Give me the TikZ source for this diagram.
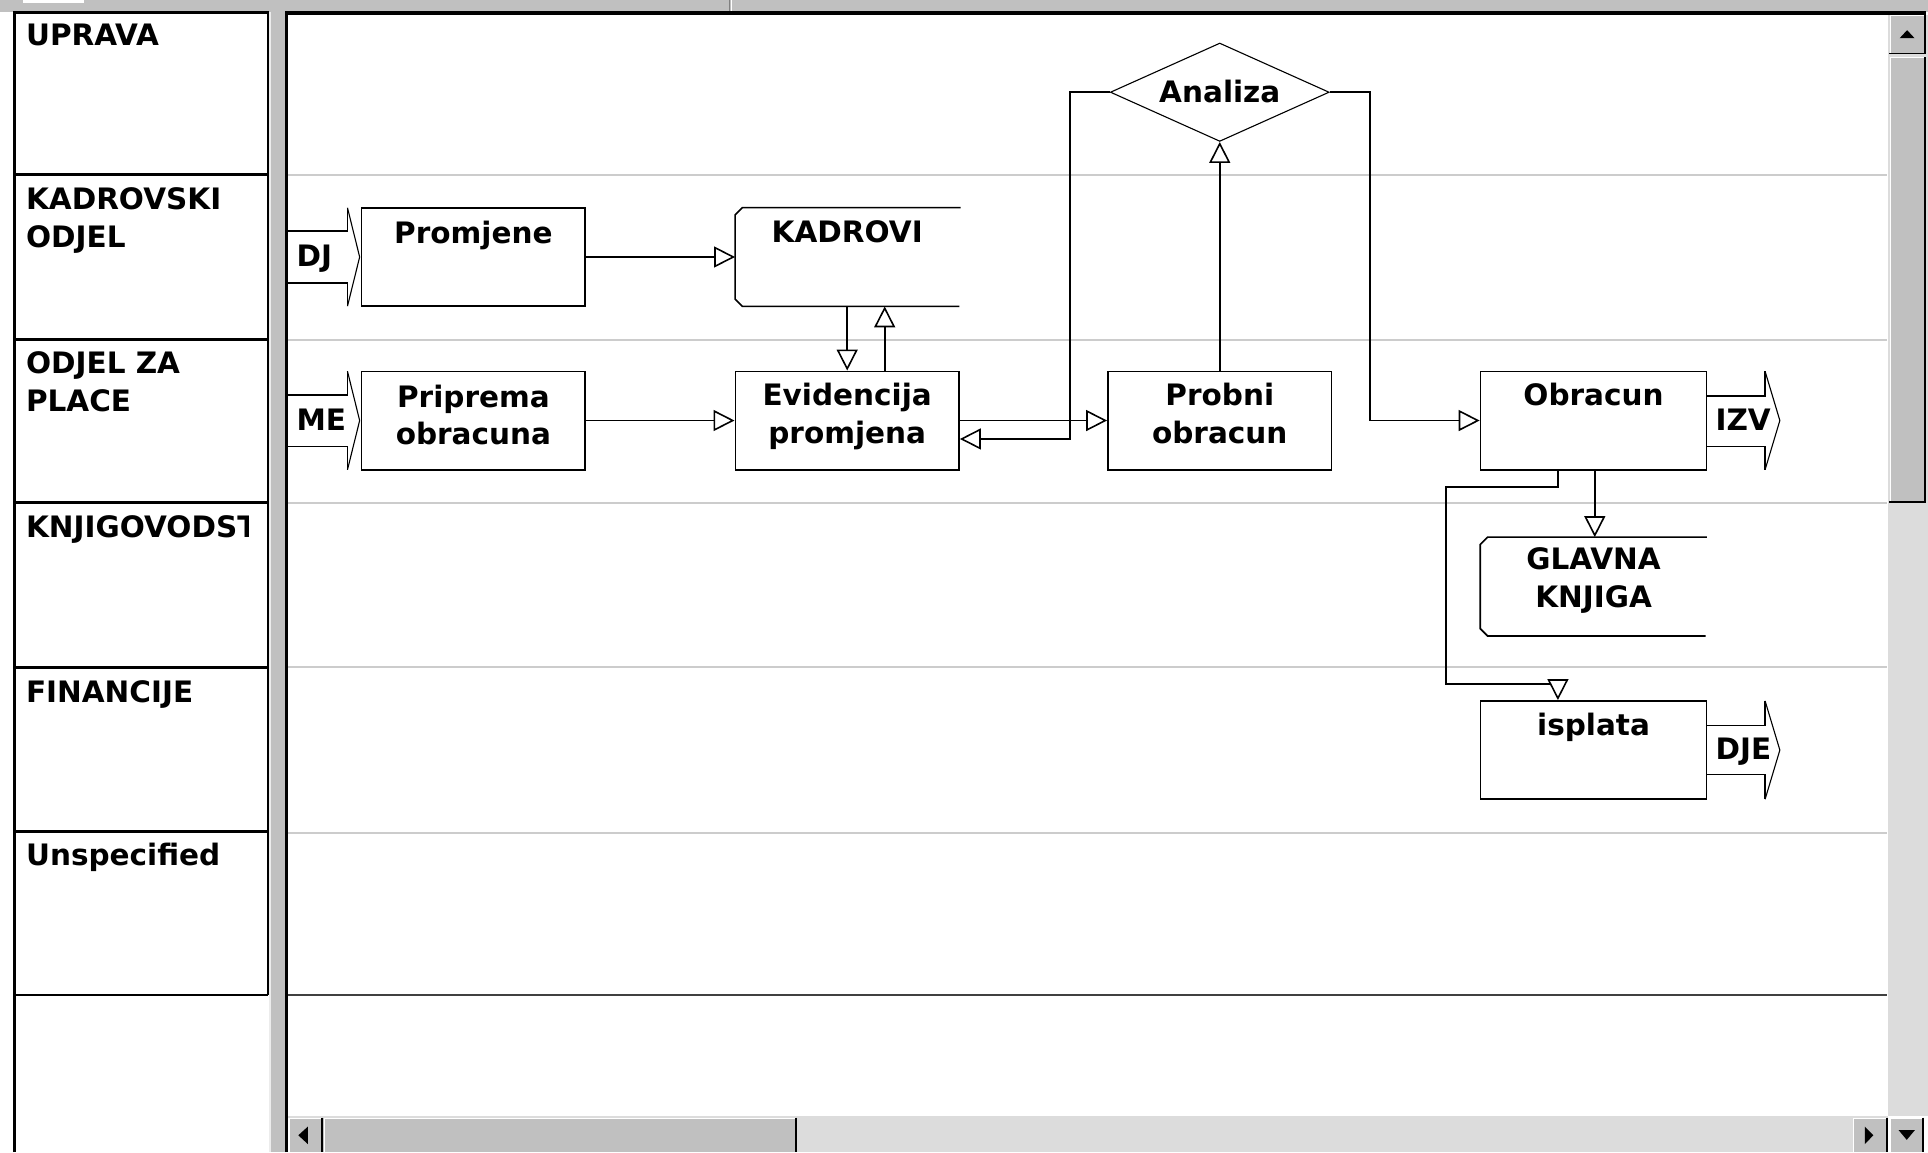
\documentclass[tikz,border=0pt]{standalone}
\usepackage{fontspec}
\newfontfamily\uifont{DejaVu Sans}
\usetikzlibrary{arrows.meta,shapes.geometric}
\definecolor{wingray}{HTML}{C0C0C0}
\definecolor{laneline}{HTML}{CCCCCC}
\definecolor{track}{HTML}{DCDCDC}
\definecolor{shadowgray}{HTML}{808080}
\begin{document}
\begin{tikzpicture}[x=1pt,y=-1pt,
  txt/.style={font=\uifont\bfseries\fontsize{24}{30.5}\selectfont, inner sep=0pt, align=center},
  lanetxt/.style={font=\uifont\bfseries\fontsize{24}{31}\selectfont, inner sep=0pt, align=left, anchor=base west},
  proc/.style={draw, line width=1.3pt, minimum width=182pt, minimum height=80pt, inner sep=0pt, fill=white},
  storebox/.style={minimum width=182pt, minimum height=80pt, inner sep=0pt},
  storeline/.style={line width=1.3pt},
  flow/.style={line width=1.3pt, -{Triangle[length=17pt,width=17pt,fill=white]}},
  blockline/.style={line width=1.3pt},
  headline/.style={line width=0.9pt},
  bevelhi/.style={white, line width=1pt},
  bevelsh/.style={black, line width=1.5pt}
]
\useasboundingbox (0,0) rectangle (1568,937);
\fill[white] (0,0) rectangle (1568,937);

% ---------- top bar ----------
\fill[wingray] (0,0) rectangle (1568,9.5);
\fill[white] (19,0) rectangle (68,2.5);
\draw[shadowgray, line width=0.8pt] (593.5,0) -- (593.5,9.5);
\draw[white, line width=0.8pt] (594.5,0) -- (594.5,9.5);

% ---------- splitter ----------
\fill[wingray] (219,9.5) rectangle (232,937);
\draw[white!85!gray, line width=1pt] (219.6,9.5) -- (219.6,937);

% ---------- lane header panel ----------
\foreach \yy in {142,276,409,542.5,676.5} \draw[line width=2.4pt] (12,\yy) -- (218,\yy);
\draw[line width=2pt] (12,809) -- (218,809);
\draw[line width=1.6pt] (218,10.5) -- (218,809);
\draw[line width=2.4pt] (12,937) -- (12,10.5) -- (218.8,10.5);

\node[lanetxt] (l1) at (21,37) {UPRAVA};
\node[lanetxt] (l2) at (21,201) {KADROVSKI\\ODJEL};
\node[lanetxt] (l3) at (21,335) {ODJEL ZA\\PLACE};
\begin{scope}
  \clip (14,411) rectangle (202,540);
  \node[lanetxt] (l4) at (21,437) {KNJIGOVODST};
\end{scope}
\node[lanetxt] (l5) at (21,571) {FINANCIJE};
\node[lanetxt] (l6) at (21,704) {Unspecified};

% ---------- canvas ----------
\foreach \yy in {142,276.5,409.3,542.7,677.5} \draw[laneline, line width=1.6pt] (234,\yy) -- (1535,\yy);
\draw[black!75, line width=2pt] (233,809) -- (1535,809);
\draw[line width=2.6pt] (233,937) -- (233,10.5) -- (1566,10.5);

% ---------- right scrollbar ----------
\fill[track] (1535.5,11.8) rectangle (1568,908);
\fill[wingray] (1537,12) rectangle (1565,43);
\draw[bevelhi] (1537.5,43) -- (1537.5,12.5) -- (1565,12.5);
\draw[bevelsh] (1536.5,43.5) -- (1565.5,43.5) -- (1565.5,11);
\fill (1545,31) -- (1557,31) -- (1551,24.5) -- cycle;
\fill[wingray] (1537,46) rectangle (1565,408);
\draw[bevelhi] (1537.5,408) -- (1537.5,46.5) -- (1565,46.5);
\draw[bevelsh] (1536.5,408.5) -- (1565.5,408.5) -- (1565.5,46);

% ---------- bottom scrollbar ----------
\fill[track] (234.3,908) rectangle (1535.5,937);
\fill[wingray] (234.5,909) rectangle (261.5,937);
\draw[bevelhi] (235,937) -- (235,909.5) -- (261.5,909.5);
\draw[bevelsh] (262,909) -- (262,937);
\fill (250.3,916.3) -- (250.3,930.4) -- (242.6,923.3) -- cycle;
\fill[wingray] (263,909) rectangle (647,937);
\draw[bevelhi] (263.8,937) -- (263.8,909.5) -- (647,909.5);
\draw[bevelsh] (647.6,909) -- (647.6,937);
\fill[wingray] (1507,909) rectangle (1534,937);
\draw[bevelhi] (1507.5,937) -- (1507.5,909.5) -- (1534,909.5);
\draw[bevelsh] (1534.6,909) -- (1534.6,937);
\fill (1516.7,916.3) -- (1516.7,930.4) -- (1523.5,923.3) -- cycle;
\fill[wingray] (1536.5,909) rectangle (1563,937);
\draw[bevelhi] (1537,937) -- (1537,909.5) -- (1563,909.5);
\draw[bevelsh] (1563.8,909) -- (1563.8,937);
\fill (1544,919) -- (1557.4,919) -- (1550.7,927) -- cycle;

% ---------- process nodes ----------
\node[proc] (prom) at (385,209) {};
\node[proc] (prip) at (385,342) {};
\node[proc] (evid) at (689,342) {};
\node[proc] (probni) at (992,342) {};
\node[proc, minimum width=184pt] (obr) at (1296,342) {};
\node[proc, minimum width=184pt] (isp) at (1296,610) {};
\node[diamond, draw, line width=0.9pt, fill=white, minimum width=178pt, minimum height=80pt, inner sep=0pt] (ana) at (992,75) {};

% ---------- data stores ----------
\node[storebox] (kad) at (689,209) {};
\draw[storeline] ([xshift=1pt]kad.north east) -- ([xshift=6pt]kad.north west) -- ([yshift=-6pt]kad.north west)
  -- ([yshift=6pt]kad.south west) -- ([xshift=6pt]kad.south west) -- (kad.south east);
\node[storebox, minimum width=184pt] (glav) at (1296,477) {};
\draw[storeline] (glav.north east) -- ([xshift=6pt]glav.north west) -- ([yshift=-6pt]glav.north west)
  -- ([yshift=6pt]glav.south west) -- ([xshift=6pt]glav.south west) -- ([xshift=-1pt]glav.south east);

% ---------- block arrows (external flows) ----------
% DJ
\draw[blockline] (234,188) -- (282.6,188) -- (282.6,169);
\draw[blockline] (234,230) -- (282.6,230) -- (282.6,249);
\draw[headline] (282.6,169) -- (292.5,209) -- (282.6,249);
% ME
\draw[blockline] (234,321) -- (282.6,321) -- (282.6,302);
\draw[blockline] (234,363) -- (282.6,363) -- (282.6,382);
\draw[headline] (282.6,302) -- (292.5,342) -- (282.6,382);
% IZV
\draw[blockline] (obr.east |- 0,322) -- (1435.5,322) -- (1435.5,302);
\draw[blockline] (obr.east |- 0,363) -- (1435.5,363) -- (1435.5,382);
\draw[headline] (1435.5,302) -- (1447.5,342) -- (1435.5,382);
% DJE
\draw[blockline] (isp.east |- 0,590) -- (1435.5,590) -- (1435.5,570);
\draw[blockline] (isp.east |- 0,630) -- (1435.5,630) -- (1435.5,650);
\draw[headline] (1435.5,570) -- (1447.5,610) -- (1435.5,650);

% ---------- connectors ----------
\coordinate (c1) at (870,357);
\coordinate (c2) at (1114,342);
\coordinate (c3) at (1176,396);
\coordinate (c4) at (1176,556.5);
\coordinate (obrout) at ([xshift=-29pt]obr.south);
\coordinate (ispin) at ([xshift=-29pt]isp.north);

\draw[flow] (prom.east) -- (kad.west);
\draw[flow] (prip.east) -- (evid.west);
\draw[flow] (kad.south) -- (evid.north);
\draw[flow] ([xshift=30.5pt]evid.north) -- ([xshift=30.5pt]kad.south);
\draw[flow] (evid.east) -- (probni.west);
\draw[flow] (ana.west) -| (c1) -- (c1 -| evid.east);
\draw[flow] (probni.north) -- (ana.south);
\draw[flow] (ana.east) -| (c2) -- (obr.west);
\draw[flow] ([xshift=1pt]obr.south) -- ([xshift=1pt]glav.north);
\draw[flow] (obrout) |- (c3) -- (c4) -- (ispin |- c4) -- (ispin);

% ---------- texts ----------
\node[txt, anchor=base] (tprom) at (385,198) {Promjene};
\node[txt, anchor=base] (tkad) at (689,197.5) {KADROVI};
\node[txt, anchor=base] (tprip) at (385,361.5) {Priprema\\obracuna};
\node[txt, anchor=base] (tevid) at (689,360.5) {Evidencija\\promjena};
\node[txt, anchor=base] (tprob) at (992,360.5) {Probni\\obracun};
\node[txt, anchor=base] (tobr) at (1296,330) {Obracun};
\node[txt, anchor=base, font=\uifont\bfseries\fontsize{24}{31}\selectfont] (tglav) at (1296,494) {GLAVNA\\KNJIGA};
\node[txt, anchor=base] (tisp) at (1296,598.5) {isplata};
\node[txt, anchor=base] (tana) at (992,83.5) {Analiza};
\node[txt, anchor=base west] (tdj) at (241,217) {DJ};
\node[txt, anchor=base west] (tme) at (241,350) {ME};
\node[txt, anchor=base west] (tizv) at (1395,350) {IZV};
\node[txt, anchor=base west] (tdje) at (1395,617.5) {DJE};
\end{tikzpicture}
\end{document}
